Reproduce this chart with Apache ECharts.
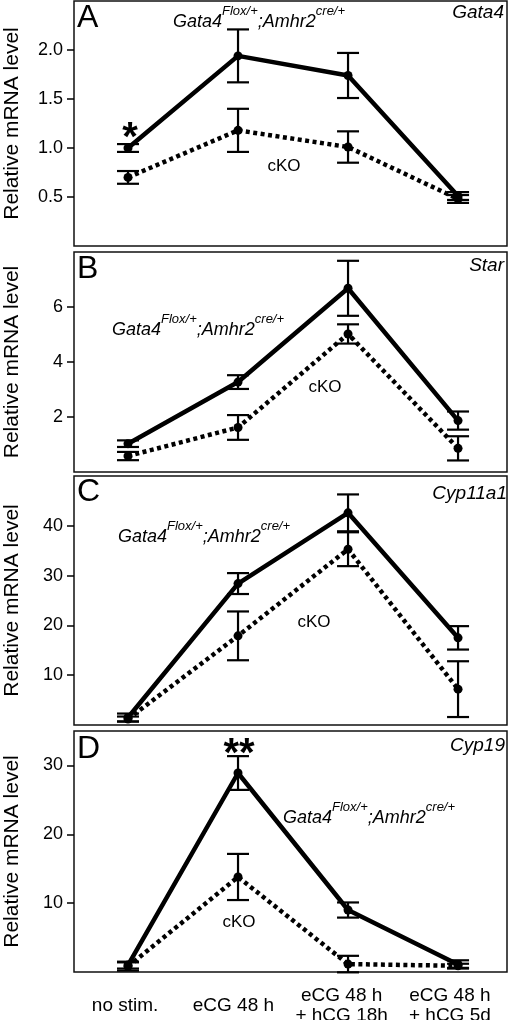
<!DOCTYPE html>
<html><head><meta charset="utf-8">
<script src="https://cdn.jsdelivr.net/npm/echarts@6/dist/echarts.min.js"></script>
<style>html,body{margin:0;padding:0;background:#fff}#c{width:510px;height:1020px}</style>
</head><body><div id="c"></div>
<script>
// ---------- data ----------
const categories = ['no stim.', 'eCG 48 h', 'eCG 48 h\n+ hCG 18h', 'eCG 48 h\n+ hCG 5d'];
const genes = ['Gata4', 'Star', 'Cyp11a1', 'Cyp19'];
const panelLetters = ['A', 'B', 'C', 'D'];
const yTicksA = [0.5, 1.0, 1.5, 2.0];
const yTicksB = [2, 4, 6];
const yTicksC = [10, 20, 30, 40];
const yTicksD = [10, 20, 30];
const yMaxes = [2.5, 8, 50, 35];

// Gata4^Flox/+;Amhr2^cre/+ (control) and cKO: mean and error
const ctrlA = [1.00, 1.94, 1.74, 0.51];  const ctrlAErr = [0.04, 0.27, 0.23, 0.04];
const ckoA  = [0.70, 1.18, 1.01, 0.48];  const ckoAErr  = [0.065, 0.22, 0.16, 0.04];
const ctrlB = [1.03, 3.27, 6.68, 1.87];  const ctrlBErr = [0.12, 0.25, 1.00, 0.33];
const ckoB  = [0.58, 1.62, 5.02, 0.86];  const ckoBErr  = [0.15, 0.45, 0.35, 0.44];
const ctrlC = [1.5, 28.4, 42.6, 17.5];   const ctrlCErr = [0.8, 2.1, 3.7, 2.35];
const ckoC  = [1.2, 17.9, 35.3, 7.2];    const ckoCErr  = [0.5, 4.9, 3.4, 5.6];
const ctrlD = [1.0, 28.9, 9.0, 1.1];     const ctrlDErr = [0.5, 2.45, 1.1, 0.6];
const ckoD  = [0.8, 13.8, 1.15, 0.9];    const ckoDErr  = [0.6, 3.35, 1.2, 0.3];

const ctrl = [ctrlA, ctrlB, ctrlC, ctrlD];
const ctrlErr = [ctrlAErr, ctrlBErr, ctrlCErr, ctrlDErr];
const cko = [ckoA, ckoB, ckoC, ckoD];
const ckoErr = [ckoAErr, ckoBErr, ckoCErr, ckoDErr];
const yTicks = [yTicksA, yTicksB, yTicksC, yTicksD];

// ---------- layout ----------
const FONT = '"Liberation Sans", Arial, Helvetica, sans-serif';
const gridTops = [1, 252, 476, 731];
const gridHeights = [245, 220, 249, 241];

const grids = [], xAxes = [], yAxes = [], series = [];
function renderErr(params, api) {
  const x = api.value(0), m = api.value(1), e = api.value(2);
  const t = api.coord([x, m + e]);
  const b = api.coord([x, m - e]);
  const hw = 11;
  const st = { stroke: '#000', lineWidth: 2.2 };
  return { type: 'group', children: [
    { type: 'line', shape: { x1: t[0], y1: t[1], x2: b[0], y2: b[1] }, style: st },
    { type: 'line', shape: { x1: t[0] - hw, y1: t[1], x2: t[0] + hw, y2: t[1] }, style: st },
    { type: 'line', shape: { x1: b[0] - hw, y1: b[1], x2: b[0] + hw, y2: b[1] }, style: st }
  ]};
}
for (let i = 0; i < 4; i++) {
  grids.push({ left: 74, width: 433, top: gridTops[i], height: gridHeights[i], show: true,
    containLabel: false, outerBoundsMode: 'none',
    borderColor: '#111', borderWidth: 1.5, backgroundColor: 'transparent' });
  xAxes.push({ type: 'value', gridIndex: i, min: -0.491, max: 3.445, show: false,
    axisLine: { onZero: false } });
  yAxes.push({ type: 'value', gridIndex: i, min: 0, max: yMaxes[i], position: 'left',
    axisLine: { show: false, onZero: false }, splitLine: { show: false },
    axisTick: { show: true, inside: false, length: 7, lineStyle: { color: '#000', width: 1.5 }, customValues: yTicks[i] },
    axisLabel: { customValues: yTicks[i], color: '#000', fontSize: 18, fontFamily: FONT, margin: 11,
      formatter: i === 0 ? (v => v.toFixed(1)) : (v => String(v)) },
    name: 'Relative mRNA level', nameLocation: 'middle', nameGap: 51,
    nameTextStyle: { color: '#000', fontSize: 21, fontFamily: FONT } });
  const ptsK = cko[i].map((v, j) => [j, v]);
  const ptsC = ctrl[i].map((v, j) => [j, v]);
  series.push({ type: 'line', xAxisIndex: i, yAxisIndex: i, data: ptsK, symbol: 'circle', symbolSize: 9,
    itemStyle: { color: '#000' }, lineStyle: { color: '#000', width: 4.5, type: [4, 3.5] }, z: 2 });
  series.push({ type: 'line', xAxisIndex: i, yAxisIndex: i, data: ptsC, symbol: 'circle', symbolSize: 9,
    itemStyle: { color: '#000' }, lineStyle: { color: '#000', width: 4.5 }, z: 3 });
  series.push({ type: 'custom', xAxisIndex: i, yAxisIndex: i, renderItem: renderErr, z: 4,
    data: cko[i].map((v, j) => [j, v, ckoErr[i][j]]) });
  series.push({ type: 'custom', xAxisIndex: i, yAxisIndex: i, renderItem: renderErr, z: 4,
    data: ctrl[i].map((v, j) => [j, v, ctrlErr[i][j]]) });
}
// category label axis under the last panel
xAxes.push({ type: 'category', gridIndex: 3, data: categories, boundaryGap: true, position: 'bottom',
  axisLine: { show: false, onZero: false }, axisTick: { show: false },
  axisLabel: { interval: 0, color: '#000', fontSize: 19, lineHeight: 20, fontFamily: FONT,
    verticalAlign: 'middle', margin: 34, padding: [0, 6, 0, 0] } });

// ---------- annotations ----------
const letterY = [18.5, 269, 492.5, 749];
const geneX = [504, 504, 507, 505];
const geneY = [12.7, 265.8, 493.5, 745.5];
const genoPos = [[173, 3.5], [112, 312], [118, 519], [283, 799.5]];
const ckoPos = [[284, 166], [325, 387], [314, 622.5], [239, 922]];
const graphics = [];
for (let i = 0; i < 4; i++) {
  graphics.push({ type: 'text', x: 77, y: letterY[i], style: { text: panelLetters[i], fontSize: 32,
    fontFamily: FONT, fill: '#000', align: 'left', verticalAlign: 'middle' } });
  graphics.push({ type: 'text', x: geneX[i], y: geneY[i], style: { text: genes[i], fontSize: 19,
    fontStyle: 'italic', fontFamily: FONT, fill: '#000', align: 'right', verticalAlign: 'middle' } });
  graphics.push({ type: 'text', x: genoPos[i][0], y: genoPos[i][1], style: {
    text: '{b|Gata4}{s|Flox/+}{b|;Amhr2}{s|cre/+}', align: 'left', verticalAlign: 'top',
    rich: {
      b: { fontSize: 18, fontStyle: 'italic', fontFamily: FONT, fill: '#000', lineHeight: 28, height: 20, verticalAlign: 'bottom' },
      s: { fontSize: 13, fontStyle: 'italic', fontFamily: FONT, fill: '#000', height: 15, verticalAlign: 'top' }
    } } });
  graphics.push({ type: 'text', x: ckoPos[i][0], y: ckoPos[i][1], style: { text: 'cKO', fontSize: 17,
    fontFamily: FONT, fill: '#000', align: 'center', verticalAlign: 'middle' } });
}
graphics.push({ type: 'text', x: 130, y: 139, style: { text: '*', fontSize: 40, fontWeight: 'bold',
  fontFamily: FONT, fill: '#000', align: 'center', verticalAlign: 'middle' } });
graphics.push({ type: 'text', x: 239, y: 755, style: { text: '**', fontSize: 40, fontWeight: 'bold',
  fontFamily: FONT, fill: '#000', align: 'center', verticalAlign: 'middle' } });

const chart = echarts.init(document.getElementById('c'), null, { renderer: 'canvas' });
chart.setOption({
  animation: false, backgroundColor: '#fff',
  grid: grids, xAxis: xAxes, yAxis: yAxes, series: series, graphic: graphics
});
</script></body></html>
